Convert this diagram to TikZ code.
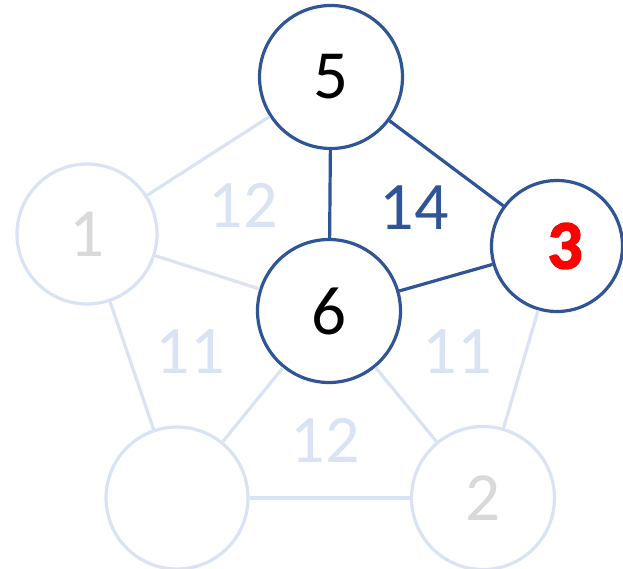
\documentclass[tikz,border=0pt]{standalone}
\usepackage{fontspec}
\setmainfont{Carlito}
\newfontfamily\heavyfont[BoldFont={* Bold},BoldFeatures={FakeBold=2.5}]{Carlito}
\definecolor{dblue}{HTML}{2F5597}
\definecolor{lblue}{HTML}{DAE3F3}
\definecolor{lgray}{HTML}{D9D9D9}
\begin{document}
\begin{tikzpicture}[x=1pt,y=-1pt,
  vtx/.style={circle,draw=dblue,line width=3.2pt,fill=white,minimum size=#1,inner sep=0pt,font=\fontsize{69}{72}\selectfont},
  fvtx/.style={circle,draw=lblue,line width=3.2pt,fill=white,minimum size=#1,inner sep=0pt,text=lgray,font=\fontsize{69}{72}\selectfont},
  dedge/.style={draw=dblue,line width=3.2pt},
  ledge/.style={draw=lblue,line width=3.2pt},
  wlab/.style={font=\fontsize{68}{72}\selectfont}]
\useasboundingbox (0,0) rectangle (623,569);
\node[vtx=143pt] (n5) at (331,77) {5};
\node[fvtx=140pt] (n1) at (87,234) {1};
\node[vtx=143pt] (n6) at (329,311) {6};
\node[vtx=131pt] (n3) at (557,246) {\hspace*{16pt}\textcolor{red}{\heavyfont\bfseries 3}};
\node[fvtx=142pt] (n4) at (177,498) {};
\node[fvtx=143pt] (n2) at (483,498) {2};
\path[ledge] (n5) -- (n1);
\path[ledge] (n1) -- (n6);
\path[ledge] (n1) -- (n4);
\path[ledge] (n6) -- (n4);
\path[ledge] (n6) -- (n2);
\path[ledge] (n4) -- (n2);
\path[ledge] (n3) -- (n2);
\path[dedge] (n5) -- (n6);
\path[dedge] (n5) -- (n3);
\path[dedge] (n6) -- (n3);
\node[wlab,text=lblue] (l1) at (243,205) {12};
\node[wlab,text=dblue] (l2) at (414,208) {14};
\node[wlab,text=lblue] (l3) at (190,352) {11};
\node[wlab,text=lblue] (l4) at (457,352) {11};
\node[wlab,text=lblue] (l5) at (325,440) {12};
\end{tikzpicture}
\end{document}
